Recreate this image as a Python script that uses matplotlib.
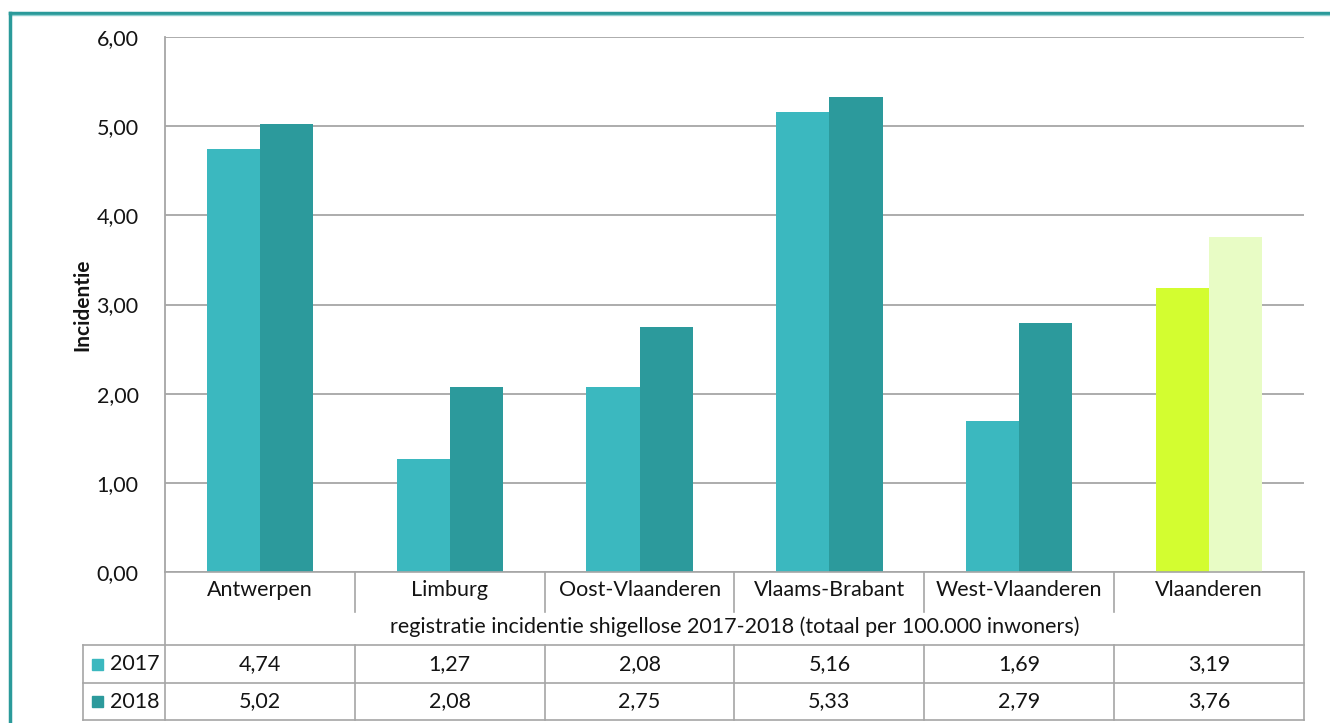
import matplotlib.pyplot as plt
import matplotlib.transforms as mtransforms
from matplotlib.patches import Rectangle
from matplotlib.lines import Line2D

plt.rcParams['font.family'] = ['Lato', 'DejaVu Sans']

categories = ['Antwerpen', 'Limburg', 'Oost-Vlaanderen', 'Vlaams-Brabant', 'West-Vlaanderen', 'Vlaanderen']
series_names = ['2017', '2018']
values_2017 = [4.74, 1.27, 2.08, 5.16, 1.69, 3.19]
values_2018 = [5.02, 2.08, 2.75, 5.33, 2.79, 3.76]
y_ticks = [0, 1, 2, 3, 4, 5, 6]
table_title = 'registratie incidentie shigellose 2017-2018 (totaal per 100.000 inwoners)'

c2017 = '#3bb8bf'
c2018 = '#2c9a9c'
c2017_total = '#d3fd30'
c2018_total = '#e8fcc5'
grid_c = '#a6a6a6'
txt_c = '#141414'
fs = 15.5

W, H = 1330, 723
fig = plt.figure(figsize=(W / 100, H / 100), dpi=100)

def fx(px):
    return px / W

def fy(py):
    return 1 - py / H

ax_l, ax_r, ax_t, ax_b = 165, 1304, 37, 572
ax = fig.add_axes([fx(ax_l), fy(ax_b), fx(ax_r - ax_l), (ax_b - ax_t) / H])

n = len(categories)
x = list(range(n))
bw = 0.28
cols17 = [c2017] * (n - 1) + [c2017_total]
cols18 = [c2018] * (n - 1) + [c2018_total]
ax.bar([i - bw / 2 for i in x], values_2017, width=bw, color=cols17, zorder=3)
ax.bar([i + bw / 2 for i in x], values_2018, width=bw, color=cols18, zorder=3)

ax.set_xlim(-0.5, n - 0.5)
ax.set_ylim(0, 6)
ax.set_yticks(y_ticks)
ax.set_yticklabels([f'{v:.2f}'.replace('.', ',') for v in y_ticks], fontsize=fs, color=txt_c)
ax.tick_params(axis='y', length=0, pad=19)
ax.set_xticks([])
ax.yaxis.grid(True, color=grid_c, linewidth=1.3)
ax.set_axisbelow(True)
for s in ['top', 'right', 'bottom']:
    ax.spines[s].set_visible(False)
ax.spines['left'].set_color(grid_c)
ax.spines['left'].set_linewidth(1.3)
ax.set_ylabel('Incidentie', fontsize=15, fontweight='bold', labelpad=3, color=txt_c)

# data table under the axis
tr = mtransforms.blended_transform_factory(ax.transData, fig.transFigure)
tf = fig.transFigure
lw = 1.2
r0, r1, r2, r3, r4 = 572, 608, 645, 683, 720
hdr_l = 83

def hline(x0, x1, py):
    fig.add_artist(Line2D([fx(x0), fx(x1)], [fy(py), fy(py)], color=grid_c, lw=lw, transform=tf))

def vline(px, y0, y1):
    fig.add_artist(Line2D([fx(px), fx(px)], [fy(y0), fy(y1)], color=grid_c, lw=lw, transform=tf))

hline(ax_l, ax_r, r0)
hline(hdr_l, ax_r, r2)
hline(hdr_l, ax_r, r3)
hline(hdr_l, ax_r, r4)
vline(ax_l, r0, r4)
vline(ax_r, r0, r4)
vline(hdr_l, r2, r4)
for i in range(1, n):
    bx = ax.transData.transform((i - 0.5, 0))[0]
    vline(bx, r0, r1 + 4)
    vline(bx, r2, r4)

for i, cat in enumerate(categories):
    ax.text(i, fy((r0 + r1) / 2), cat, transform=tr, ha='center', va='center',
            fontsize=fs, color=txt_c, clip_on=False)
    ax.text(i, fy((r2 + r3) / 2), f'{values_2017[i]:.2f}'.replace('.', ','), transform=tr,
            ha='center', va='center', fontsize=fs, color=txt_c, clip_on=False)
    ax.text(i, fy((r3 + r4) / 2), f'{values_2018[i]:.2f}'.replace('.', ','), transform=tr,
            ha='center', va='center', fontsize=fs, color=txt_c, clip_on=False)

fig.text(fx((ax_l + ax_r) / 2), fy((r1 + r2) / 2), table_title, ha='center', va='center',
         fontsize=fs, color=txt_c)

for name, col, (ya, yb) in zip(series_names, [c2017, c2018], [(r2, r3), (r3, r4)]):
    cy = (ya + yb) / 2
    fig.add_artist(Rectangle((fx(92), fy(cy + 5.5)), 11 / W, 11 / H, color=col, transform=tf))
    fig.text(fx(110), fy(cy), name, ha='left', va='center', fontsize=fs, color=txt_c)

# teal frame around the chart
fig.add_artist(Line2D([fx(10), fx(W + 5)], [fy(13), fy(13)], color='#2a9a9a', lw=2.5, transform=tf))
fig.add_artist(Line2D([fx(10), fx(W + 5)], [fy(15), fy(15)], color='#8fd0d0', lw=1, transform=tf))
fig.add_artist(Line2D([fx(10), fx(10)], [fy(13), fy(H + 5)], color='#2a9a9a', lw=2.5, transform=tf))

fig.savefig('out.png', dpi=100)
